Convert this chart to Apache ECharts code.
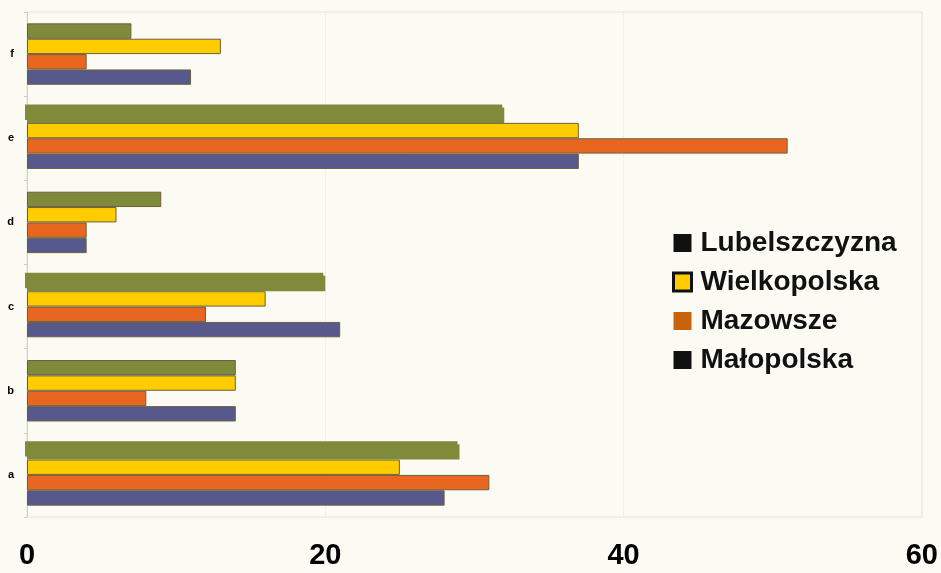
<!DOCTYPE html>
<html>
<head>
<meta charset="utf-8">
<script src="https://cdn.jsdelivr.net/npm/echarts@6/dist/echarts.min.js"></script>
<style>
  html, body { margin: 0; padding: 0; background: #fbfbf3; }
  #chart { width: 941px; height: 573px; }
</style>
</head>
<body>
<div id="chart"></div>
<script>
// Categories along the vertical axis (bottom to top)
const categories = ['a', 'b', 'c', 'd', 'e', 'f'];

// Values per region, one entry per category
const lubelszczyzna = [29, 14, 20, 9, 32, 7];
const wielkopolska  = [25, 14, 16, 6, 37, 13];
const mazowsze      = [31, 8, 12, 4, 51, 4];
const malopolska    = [28, 14, 21, 4, 37, 11];

// Axis ticks
const xTicks = [0, 20, 40, 60];

// Series listed top-to-bottom inside each group
const regionNames = ['Lubelszczyzna', 'Wielkopolska', 'Mazowsze', 'Małopolska'];
const regionValues = [lubelszczyzna, wielkopolska, mazowsze, malopolska];
const regionColors = ['#7f8b3b', '#ffcc00', '#e8661f', '#57588c'];

// Green bars in a, c and e are printed heavier than the rest
const heavyCategories = ['a', 'c', 'e'];

const series = regionNames.map((name, i) => ({
  name: name,
  type: 'bar',
  barGap: '0%',
  barCategoryGap: '27%',
  z: 10 - i,
  itemStyle: { color: regionColors[i], borderColor: '#6e5f3c', borderWidth: 1 },
  data: regionValues[i].map((v, k) => {
    if (i === 0 && heavyCategories.includes(categories[k])) {
      return {
        value: v,
        itemStyle: {
          borderWidth: 0,
          shadowColor: regionColors[i],
          shadowBlur: 0,
          shadowOffsetX: -2,
          shadowOffsetY: -3
        }
      };
    }
    return v;
  })
}));

const legendIcons = {
  'Lubelszczyzna': { color: '#111111', borderWidth: 0 },
  'Wielkopolska': { color: '#ffcc00', borderColor: '#111111', borderWidth: 3 },
  'Mazowsze': { color: '#c8620c', borderWidth: 0 },
  'Małopolska': { color: '#111111', borderWidth: 0 }
};

const chart = echarts.init(document.getElementById('chart'));
chart.setOption({
  backgroundColor: '#fbfbf3',
  animation: false,
  grid: { left: 27, right: 19, top: 12, bottom: 56, show: true, borderColor: '#e6e6dc', borderWidth: 1 },
  legend: {
    orient: 'vertical',
    left: 667,
    top: 224,
    itemWidth: 18,
    itemHeight: 18,
    itemGap: 11,
    icon: 'rect',
    textStyle: {
      fontFamily: 'Liberation Sans, Arial, sans-serif',
      fontSize: 28,
      fontWeight: 'bold',
      color: '#111111',
      padding: [0, 0, 0, 4]
    },
    data: regionNames.map(n => ({ name: n, itemStyle: legendIcons[n] }))
  },
  xAxis: {
    type: 'value',
    min: xTicks[0],
    max: xTicks[xTicks.length - 1],
    interval: xTicks[1] - xTicks[0],
    axisLine: { show: false },
    axisTick: { show: false },
    splitLine: { show: true, lineStyle: { color: '#e6e6dc', type: 'dotted', width: 1 } },
    axisLabel: {
      fontFamily: 'Liberation Sans, Arial, sans-serif',
      fontSize: 29,
      fontWeight: 'bold',
      color: '#000000',
      margin: 24
    }
  },
  yAxis: {
    type: 'category',
    data: categories,
    axisLine: { show: true, lineStyle: { color: '#cfcfc4', width: 1 } },
    axisTick: { show: true, length: 3, lineStyle: { color: '#cfcfc4' } },
    axisLabel: {
      fontFamily: 'Liberation Sans, Arial, sans-serif',
      fontSize: 11,
      fontWeight: 'bold',
      color: '#000000',
      margin: 13
    }
  },
  series: series
});
</script>
</body>
</html>
